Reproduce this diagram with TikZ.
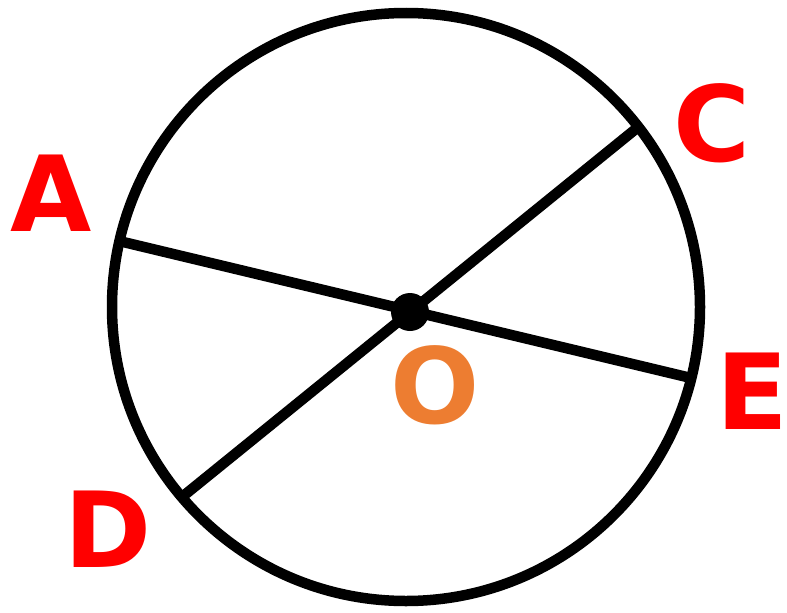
\documentclass[tikz,border=0pt]{standalone}
\usepackage{fontspec}
\newfontfamily\lblfont{DejaVu Sans}[BoldFont={DejaVu Sans Bold}]
\definecolor{lblred}{HTML}{FF0000}
\definecolor{lblorange}{HTML}{ED7D31}
\begin{document}
\begin{tikzpicture}[x=1pt,y=-1pt,
  stroke/.style={line width=10.5pt, black},
  lbl/.style={inner sep=0pt, outer sep=0pt, anchor=base, font=\lblfont\bfseries\fontsize{105}{105}\selectfont},
  ptlbl/.style={lbl, text=lblred},
  ctrlbl/.style={lbl, text=lblorange}]
  \useasboundingbox (0,0) rectangle (787,613);
  \coordinate (ctr) at (406,307);
  \coordinate (A) at (119,241);
  \coordinate (E) at (691,378);
  \coordinate (C) at (637,128);
  \coordinate (D) at (182,497);
  \draw[stroke] (ctr) circle[radius=294];
  \draw[stroke] (A) -- (E);
  \draw[stroke] (C) -- (D);
  \fill (410,312) circle[radius=19];
  \node[ptlbl] (lA) at (51.5,231) {A};
  \node[ptlbl] (lC) at (712,161) {C};
  \node[ptlbl] (lD) at (108,567) {D};
  \node[ptlbl] (lE) at (752,429) {E};
  \node[ctrlbl] (lO) at (435.5,423) {O};
\end{tikzpicture}
\end{document}
